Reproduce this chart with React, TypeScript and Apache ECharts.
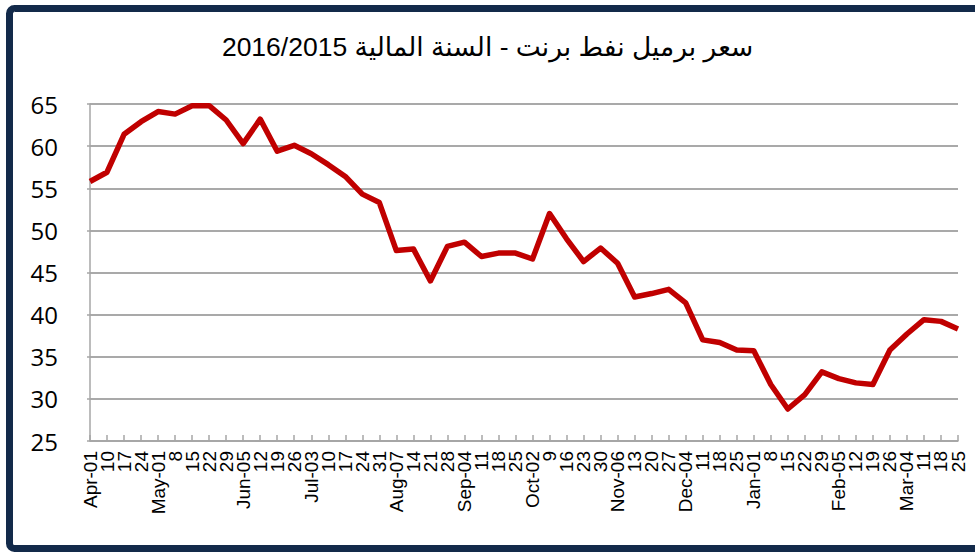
import React, { useEffect, useRef } from "react";
import * as echarts from "echarts";

const titleText = "سعر برميل نفط برنت - السنة المالية 2016/2015";

const categories = [
  "Apr-01", "10", "17", "24", "May-01", "8", "15", "22", "29", "Jun-05", "12", "19", "26",
  "Jul-03", "10", "17", "24", "31", "Aug-07", "14", "21", "28", "Sep-04", "11", "18", "25",
  "Oct-02", "9", "16", "23", "30", "Nov-06", "13", "20", "27", "Dec-04", "11", "18", "25",
  "Jan-01", "8", "15", "22", "29", "Feb-05", "12", "19", "26", "Mar-04", "11", "18", "25",
];

const brentPrice = [
  55.8, 56.9, 61.4, 62.9, 64.1, 63.8, 64.8, 64.8, 63.1, 60.3, 63.2, 59.4, 60.1,
  59.1, 57.8, 56.4, 54.3, 53.3, 47.6, 47.8, 44.0, 48.1, 48.6, 46.9, 47.3, 47.3,
  46.6, 52.0, 49.0, 46.3, 47.9, 46.1, 42.1, 42.5, 43.0, 41.4, 37.0, 36.7, 35.8,
  35.7, 31.7, 28.8, 30.5, 33.2, 32.4, 31.9, 31.7, 35.8, 37.7, 39.4, 39.2, 38.3,
];

const yMin = 25;
const yMax = 65;
const yStep = 5;

export default function App() {
  const ref = useRef<HTMLDivElement>(null);
  useEffect(() => {
    document.body.style.margin = "0";
    if (!ref.current) return;
    const chart = echarts.init(ref.current, null, { renderer: "svg" });
    chart.setOption({
      animation: false,
      backgroundColor: "#ffffff",
      title: {
        text: titleText,
        left: "center",
        top: 28,
        textStyle: {
          fontFamily: "Liberation Sans, DejaVu Sans, sans-serif",
          fontSize: 26.5,
          fontWeight: "normal",
          color: "#000000",
        },
      },
      graphic: [
        {
          type: "rect",
          shape: { x: 9.5, y: 8.5, width: 980, height: 540, r: 5 },
          style: { fill: "none", stroke: "#132a4a", lineWidth: 7 },
          silent: true,
          z: 100,
        },
      ],
      grid: { left: 90, right: 17, top: 104, bottom: 111, containLabel: false },
      xAxis: {
        type: "category",
        data: categories,
        boundaryGap: false,
        axisLine: { show: true, lineStyle: { color: "#a6a6a6", width: 1.5 } },
        axisTick: { show: true, inside: true, length: 6, interval: 0, lineStyle: { color: "#a6a6a6", width: 1.5 } },
        axisLabel: {
          interval: 0,
          rotate: 90,
          margin: 10,
          fontFamily: "Liberation Sans, Arial, sans-serif",
          fontSize: 19,
          color: "#000000",
        },
        splitLine: { show: false },
      },
      yAxis: {
        type: "value",
        min: yMin,
        max: yMax,
        interval: yStep,
        axisLine: { show: true, lineStyle: { color: "#a6a6a6", width: 1.5 } },
        axisTick: { show: true, length: 3, lineStyle: { color: "#a6a6a6", width: 1.5 } },
        axisLabel: {
          margin: 32,
          fontFamily: "Open Sans, sans-serif",
          fontSize: 24,
          color: "#000000",
        },
        splitLine: { show: true, lineStyle: { color: "#8c8c8c", width: 1.5 } },
      },
      series: [
        {
          type: "line",
          data: brentPrice,
          symbol: "none",
          lineStyle: { color: "#c00000", width: 5.5, join: "round" },
          itemStyle: { color: "#c00000" },
        },
      ],
    });
    return () => chart.dispose();
  }, []);
  return <div ref={ref} style={{ width: 975, height: 552 }} />;
}
